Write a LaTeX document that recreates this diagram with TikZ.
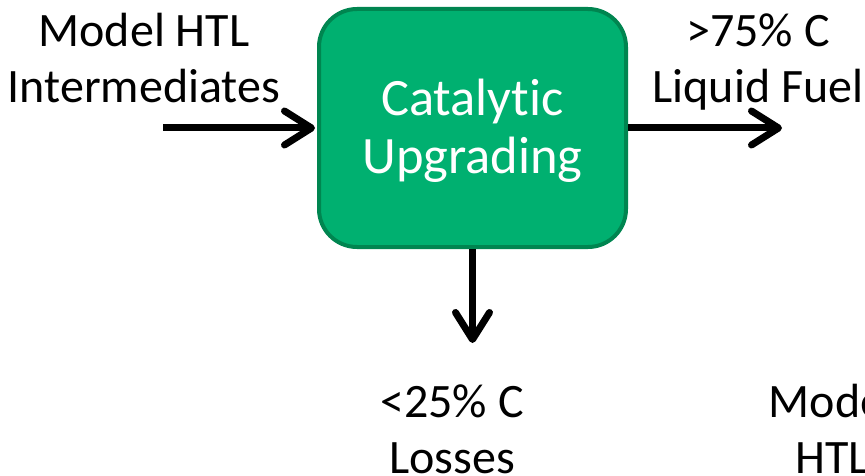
\documentclass[tikz,border=0pt]{standalone}
\usepackage{fontspec}
\setmainfont{Carlito}[Ligatures={NoCommon}]
\usetikzlibrary{arrows.meta}
\definecolor{boxfill}{RGB}{0,176,112}
\definecolor{boxline}{RGB}{0,133,80}
\begin{document}
\begin{tikzpicture}[x=1pt,y=-1pt,
  lbl/.style={font=\fontsize{48}{56}\selectfont, align=center, inner sep=0pt, anchor=base},
  procbox/.style={draw=boxline, fill=boxfill, line width=4pt, rounded corners=38pt,
    minimum width=307pt, minimum height=238pt, inner sep=0pt},
  boxtext/.style={text=white, align=center, inner sep=0pt, anchor=base,
    font=\fontsize{52.5}{58}\selectfont},
  flow/.style={line width=7pt, -{Straight Barb[length=27pt,width=34pt,round]}}]
\clip (0,0) rectangle (865,476);
\node[procbox] (box) at (472.5,128) {};
\node[boxtext] (boxlbl) at (472.5,173) {Catalyt\kern0pt ic\\Upgrading};
\node[lbl] (inlbl) at (144,103) {Model HTL\\Intermediates};
\node[lbl] (outlbl) at (758,103) {>75\% C\\Liquid Fuel};
\node[lbl] (losslbl) at (452,473) {<25\% C\\Losses};
\node[lbl] (nextlbl) at (832,473) {Model\\HTL};
\coordinate (inS) at (163,128);
\coordinate (outE) at (782,128);
\coordinate (lossE) at (472.5,343);
\draw[flow, shorten >=2pt] (inS) -- (box.west);
\draw[flow] (box.east) -- (outE);
\draw[flow] (box.south) -- (lossE);
\end{tikzpicture}
\end{document}
